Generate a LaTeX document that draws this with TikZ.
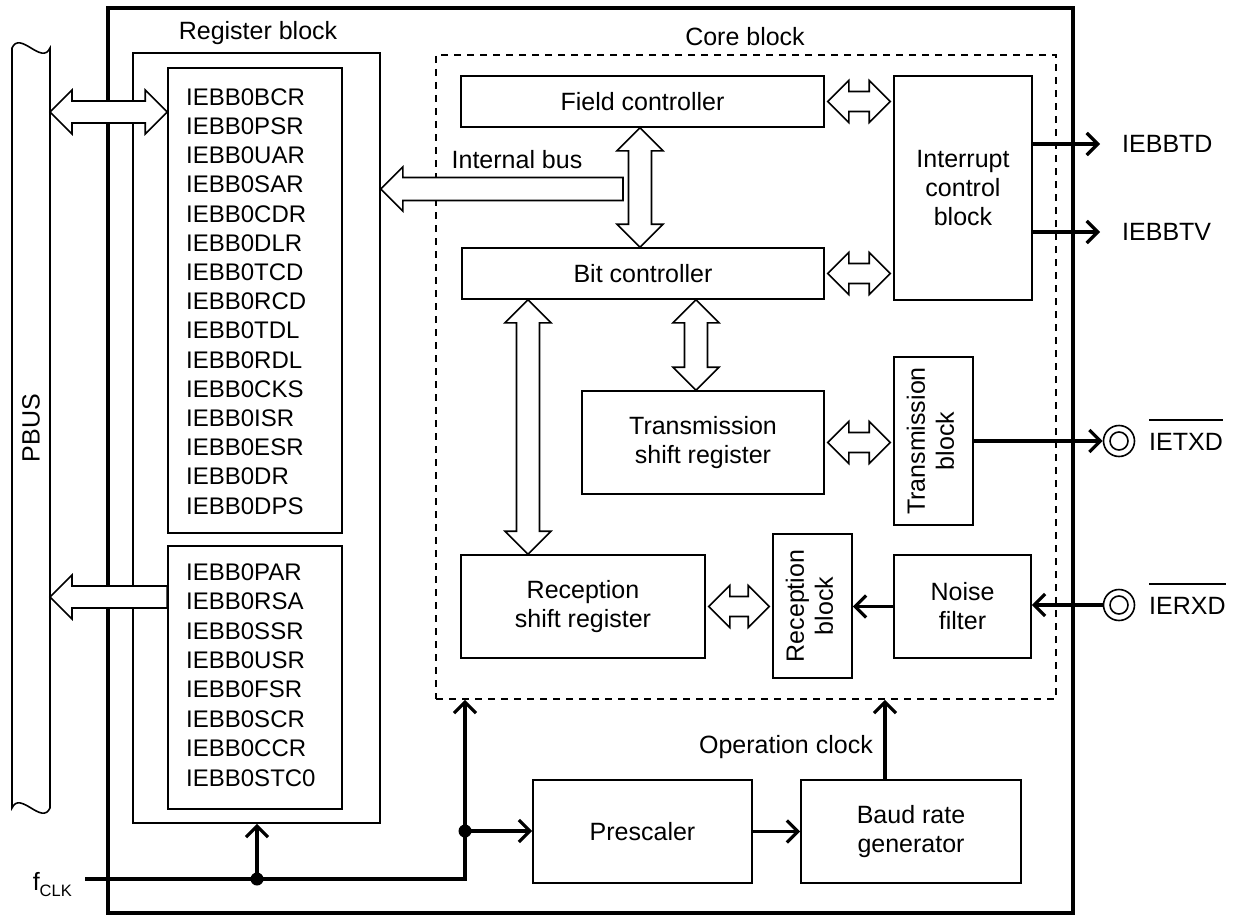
\documentclass[tikz,border=0pt]{standalone}
\usepackage{fontspec}
\setmainfont{Liberation Sans}
\usetikzlibrary{arrows.meta,calc}
\tikzset{
 ln/.style={line width=1.6pt},
 sig/.style={line width=3.3pt},
 box/.style={draw, ln, rectangle, inner sep=0pt, align=center, font=\fontsize{25}{29}\selectfont},
 lbl/.style={inner sep=0pt, font=\fontsize{25}{29}\selectfont},
 reg/.style={inner sep=0pt, anchor=west, font=\fontsize{24}{29}\selectfont},
 bus/.style={draw, ln, fill=white, line join=miter},
 arr/.style={-{Straight Barb[length=11pt,width=22pt]}},
 dot/.style={circle, fill, inner sep=0pt, minimum size=13pt},
 ring/.style={circle, draw, ln, inner sep=0pt},
}
% horizontal double block arrow: left tip, right tip, head, half shaft
\newcommand\hdbl[4]{\draw[bus] let \p1=(#1), \p2=(#2) in
 (\x1,\y1) -- (\x1+#3pt,\y1+#3pt) -- (\x1+#3pt,\y1+#4pt) -- (\x2-#3pt,\y1+#4pt) -- (\x2-#3pt,\y1+#3pt)
 -- (\x2,\y1) -- (\x2-#3pt,\y1-#3pt) -- (\x2-#3pt,\y1-#4pt) -- (\x1+#3pt,\y1-#4pt) -- (\x1+#3pt,\y1-#3pt) -- cycle;}
% vertical double block arrow: top tip, bottom tip
\newcommand\vdbl[4]{\draw[bus] let \p1=(#1), \p2=(#2) in
 (\x1,\y1) -- (\x1+#3pt,\y1-#3pt) -- (\x1+#4pt,\y1-#3pt) -- (\x1+#4pt,\y2+#3pt) -- (\x1+#3pt,\y2+#3pt)
 -- (\x1,\y2) -- (\x1-#3pt,\y2+#3pt) -- (\x1-#4pt,\y2+#3pt) -- (\x1-#4pt,\y1-#3pt) -- (\x1-#3pt,\y1-#3pt) -- cycle;}
% left-pointing single block arrow: tip, tail
\newcommand\lsgl[4]{\draw[bus] let \p1=(#1), \p2=(#2) in
 (\x1,\y1) -- (\x1+#3pt,\y1+#3pt) -- (\x1+#3pt,\y1+#4pt) -- (\x2,\y1+#4pt) -- (\x2,\y1-#4pt)
 -- (\x1+#3pt,\y1-#4pt) -- (\x1+#3pt,\y1-#3pt) -- cycle;}
\begin{document}
\begin{tikzpicture}[x=1pt,y=-1pt]
\useasboundingbox (0,0) rectangle (1236,915);

% outer box
\node[draw, sig, minimum width=965pt, minimum height=905pt, inner sep=0pt] (outer) at (590.5,460.5) {};

% PBUS
\node[minimum width=38pt, minimum height=760pt, inner sep=0pt] (pbus) at (31,428) {\rotatebox{90}{\fontsize{25}{29}\selectfont PBUS}};
\draw[ln] (12,48) .. controls (20,30) and (42,66) .. (50,48) -- (50,808)
 .. controls (42,826) and (20,790) .. (12,808) -- cycle;

% register block
\node[draw, ln, minimum width=247pt, minimum height=770pt, inner sep=0pt] (regblk) at (256.5,438) {};
\node[lbl] (regt) at (258,33) {Register block};
\node[draw, ln, minimum width=174pt, minimum height=465pt, inner sep=0pt] (rg1) at (255,300.5) {};
\node[draw, ln, minimum width=174pt, minimum height=263pt, inner sep=0pt] (rg2) at (255,677.5) {};
\foreach \n [count=\i] in {IEBB0BCR,IEBB0PSR,IEBB0UAR,IEBB0SAR,IEBB0CDR,IEBB0DLR,IEBB0TCD,IEBB0RCD,IEBB0TDL,IEBB0RDL,IEBB0CKS,IEBB0ISR,IEBB0ESR,IEBB0DR,IEBB0DPS}
  \node[reg] (ra\i) at (186,{97+29.2*(\i-1)}) {\n};
\foreach \n [count=\i] in {IEBB0PAR,IEBB0RSA,IEBB0SSR,IEBB0USR,IEBB0FSR,IEBB0SCR,IEBB0CCR,IEBB0STC0}
  \node[reg] (rb\i) at (186,{572+29.4*(\i-1)}) {\n};

% core block
\node[draw, ln, dash pattern=on 7pt off 6pt, minimum width=620pt, minimum height=644pt, inner sep=0pt] (core) at (746,377) {};
\node[lbl] (coret) at (745,37) {Core block};

\node[box, minimum width=363pt, minimum height=51pt] (fc) at (642.5,101.5) {Field controller};
\node[box, minimum width=138pt, minimum height=224pt] (icb) at (963,188) {Interrupt\\control\\block};
\node[box, minimum width=362pt, minimum height=51pt] (bc) at (643,273.5) {Bit controller};
\node[box, minimum width=242pt, minimum height=103pt] (tsr) at (703,442.5) {Transmission\\shift register};
\node[box, minimum width=79pt, minimum height=168pt] (tb) at (933.5,441) {\rotatebox{90}{\begin{tabular}{@{}c@{}}Transmission\\block\end{tabular}}};
\node[box, minimum width=244pt, minimum height=103pt] (rsr) at (583,606.5) {Reception\\shift register};
\node[box, minimum width=79pt, minimum height=144pt] (rb) at (812.5,606) {\rotatebox{90}{\begin{tabular}{@{}c@{}}Reception\\block\end{tabular}}};
\node[box, minimum width=137pt, minimum height=103pt] (nf) at (962.5,606.5) {Noise\\filter};
\node[box, minimum width=219pt, minimum height=103pt] (pre) at (642.5,831.5) {Prescaler};
\node[box, minimum width=220pt, minimum height=103pt] (brg) at (911,831.5) {Baud rate\\generator};

% block arrows
\coordinate (b1) at (50,112);
\hdbl{b1}{rg1.west |- b1}{22}{11}
\coordinate (b2) at (50,597);
\lsgl{b2}{rg2.west |- b2}{22}{11}
\coordinate (ib) at (623,189);
\lsgl{regblk.east |- ib}{ib}{22}{11.5}
\node[lbl] (ibl) at (517,160) {Internal bus};
\hdbl{$(fc.east)+(3,0)$}{$(icb.west |- fc.east)+(-3,0)$}{21}{10}
\hdbl{$(bc.east)+(3,0)$}{$(icb.west |- bc.east)+(-3,0)$}{21}{10}
\hdbl{$(tsr.east)+(3,0)$}{$(tb.west |- tsr.east)+(-3,0)$}{21}{10}
\hdbl{$(rsr.east)+(3,0)$}{$(rb.west |- rsr.east)+(-3,0)$}{21}{10}
\vdbl{640,0 |- fc.south}{640,0 |- bc.north}{23}{11.5}
\vdbl{696,0 |- bc.south}{696,0 |- tsr.north}{23}{11.5}
\vdbl{528,0 |- bc.south}{528,0 |- rsr.north}{23}{11.5}

% interrupt outputs
\coordinate (td) at (1100,144);
\coordinate (tv) at (1100,232);
\draw[sig, arr] (icb.east |- td) -- (td);
\draw[sig, arr] (icb.east |- tv) -- (tv);
\node[lbl, anchor=west] (tdl) at (1122,144) {IEBBTD};
\node[lbl, anchor=west] (tvl) at (1122,232) {IEBBTV};

% serial pins
\node[ring, minimum size=31pt] (tx) at (1119,441) {};
\node[ring, minimum size=18pt] (txi) at (tx) {};
\node[ring, minimum size=31pt] (rx) at (1119,605) {};
\node[ring, minimum size=18pt] (rxi) at (rx) {};
\draw[sig, arr] (tb.east |- tx) -- (tx.west);
\draw[sig, arr] (rx.west) -- (nf.east |- rx);
\draw[sig, arr] (nf.west) -- (rb.east |- nf.west);
\node[lbl, anchor=west] (txl) at (1149,442) {IETXD};
\node[lbl, anchor=west] (rxl) at (1149,606) {IERXD};
\draw[ln] ([yshift=13pt]txl.north west) -- ([yshift=13pt]txl.north east);
\draw[ln] ([yshift=13pt]rxl.north west) -- ([yshift=13pt]rxl.north east);

% clock
\node[lbl, anchor=base east] (fclk) at (72,890) {f\raisebox{-6pt}{\fontsize{16.5}{17}\selectfont CLK}};
\coordinate (c0) at (85,879);
\coordinate (ck1) at (257,879);
\coordinate (ck2) at (465,879);
\coordinate (ck3) at (465,831);
\draw[sig, arr] (c0) -- (ck2) -- (ck2 |- core.south);
\draw[sig, arr] (ck1) -- (ck1 |- regblk.south);
\draw[sig, arr] (ck3) -- (pre.west |- ck3);
\draw[sig, arr] (pre.east) -- (brg.west);
\draw[sig, arr] (885,0 |- brg.north) -- (885,0 |- core.south);
\node[lbl, anchor=east] (opc) at (873,747) {Operation clock};
\node[dot] (d1) at (ck1) {};
\node[dot] (d2) at (ck3) {};
\end{tikzpicture}
\end{document}
